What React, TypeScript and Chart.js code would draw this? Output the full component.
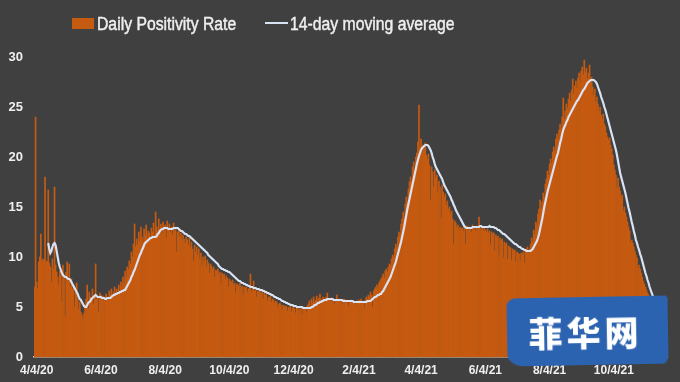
import React, { useEffect, useRef } from 'react';
import { Chart, registerables } from 'chart.js';

Chart.register(...registerables);

// First category is 2 Apr 2020, one bar per day
const startYear = 2020;
const startMonth = 3; // April (0-based)
const startDay = 2;

const tickLabels = ['4/4/20', '6/4/20', '8/4/20', '10/4/20', '12/4/20', '2/4/21', '4/4/21', '6/4/21', '8/4/21', '10/4/21'];

const dailyRate: number[] = [
  7.0, 24.0, 7.5, 6.8, 9.5, 10.0, 12.3, 9.6, 9.8, 9.7,
  18.0, 9.5, 9.6, 16.7, 9.4, 9.0, 7.5, 9.8, 8.8, 17.0,
  9.2, 8.5, 8.0, 7.2, 8.6, 8.2, 5.5, 9.2, 8.0, 4.0,
  8.5, 9.5, 7.6, 9.3, 7.0, 7.8, 6.8, 7.2, 5.0, 6.5,
  7.4, 5.8, 4.8, 5.5, 4.5, 4.2, 3.8, 4.4, 5.2, 5.8,
  7.2, 4.8, 6.5, 6.0, 5.6, 6.8, 5.3, 6.2, 9.3, 5.8,
  6.0, 4.5, 6.4, 6.2, 5.9, 6.1, 5.6, 6.0, 6.3, 5.7,
  6.0, 6.6, 6.2, 6.8, 6.0, 6.5, 7.0, 6.4, 6.8, 6.2,
  7.2, 6.6, 7.5, 7.0, 8.0, 7.4, 8.6, 8.0, 9.0, 8.7,
  9.6, 9.3, 10.5, 10.0, 11.3, 13.3, 11.0, 11.8, 11.2, 12.5,
  11.6, 13.0, 12.0, 11.5, 12.8, 12.2, 13.2, 11.8, 12.6, 12.4,
  12.0, 12.9, 12.5, 13.4, 12.2, 14.5, 13.0, 12.6, 13.8, 12.8,
  13.3, 12.4, 13.5, 12.9, 13.2, 11.9, 13.6, 12.7, 13.3, 12.5,
  13.0, 12.2, 13.4, 12.6, 13.0, 10.5, 12.5, 12.8, 12.0, 12.4,
  11.6, 12.2, 11.8, 11.4, 12.0, 11.7, 11.2, 11.9, 11.0, 11.5,
  10.8, 9.6, 11.2, 10.5, 11.0, 10.2, 10.8, 9.8, 10.4, 9.2,
  10.0, 9.6, 10.1, 9.0, 9.7, 9.4, 8.4, 9.3, 9.1, 8.8,
  9.0, 8.0, 8.7, 8.6, 8.8, 8.3, 8.5, 7.4, 8.4, 8.2,
  8.3, 7.8, 8.1, 7.9, 7.0, 7.8, 7.6, 7.5, 7.7, 7.2,
  7.4, 6.4, 7.3, 7.2, 7.0, 7.4, 6.9, 7.1, 6.2, 7.0,
  6.9, 7.0, 6.5, 6.8, 6.9, 8.3, 6.5, 6.8, 7.6, 6.6,
  6.7, 6.0, 6.6, 6.5, 6.7, 6.3, 6.5, 5.8, 6.4, 6.2,
  6.3, 5.6, 6.0, 5.9, 6.1, 5.5, 5.8, 5.7, 5.4, 5.6,
  5.5, 5.0, 5.3, 5.4, 5.2, 4.7, 5.2, 5.1, 5.0, 5.1,
  4.6, 5.0, 4.9, 5.1, 4.5, 4.9, 5.0, 4.8, 4.4, 4.9,
  5.0, 4.6, 4.8, 4.9, 4.3, 4.8, 5.0, 4.9, 4.4, 5.1,
  5.3, 5.6, 5.0, 5.8, 5.4, 6.0, 5.5, 5.7, 6.1, 5.6,
  5.9, 6.3, 5.6, 5.8, 6.0, 5.5, 5.9, 6.0, 6.4, 5.7,
  5.8, 5.6, 5.9, 5.5, 5.8, 5.3, 5.7, 6.2, 5.6, 5.8,
  5.5, 5.7, 5.2, 5.6, 5.8, 5.4, 5.7, 5.5, 5.1, 5.6,
  5.5, 5.7, 5.4, 5.6, 5.5, 5.2, 5.6, 5.5, 5.7, 5.4,
  5.8, 5.6, 5.5, 4.9, 5.7, 6.0, 5.8, 6.2, 6.0, 6.5,
  6.2, 5.0, 6.6, 6.8, 7.0, 7.2, 6.9, 7.4, 7.6, 7.8,
  8.0, 8.3, 7.9, 8.6, 8.8, 8.5, 9.0, 9.3, 9.2, 9.8,
  10.2, 10.0, 10.8, 11.3, 11.0, 12.0, 12.5, 12.2, 13.3, 13.8,
  14.5, 14.0, 15.3, 16.0, 15.6, 16.8, 17.5, 18.0, 17.6, 19.0,
  19.5, 18.8, 20.0, 20.4, 21.5, 25.2, 21.0, 21.8, 20.5, 21.2,
  20.8, 21.4, 20.2, 19.8, 20.3, 19.2, 15.7, 19.0, 18.5, 17.0,
  18.7, 17.9, 18.2, 16.5, 17.6, 17.0, 13.8, 17.2, 16.5, 16.0,
  16.3, 15.2, 15.6, 14.8, 15.0, 14.3, 14.6, 13.8, 11.3, 13.6,
  13.4, 13.0, 13.2, 12.7, 13.0, 12.8, 12.9, 12.6, 13.0, 11.3,
  12.8, 13.1, 12.7, 13.0, 12.9, 12.5, 13.2, 12.8, 13.0, 12.6,
  13.1, 12.8, 14.0, 12.9, 12.7, 13.0, 12.6, 12.9, 12.7, 12.5,
  12.8, 12.4, 12.6, 11.2, 12.5, 12.3, 12.4, 10.6, 12.2, 12.0,
  12.1, 10.2, 11.9, 11.7, 11.8, 9.9, 11.5, 11.3, 11.4, 9.8,
  11.1, 11.0, 10.9, 9.7, 10.8, 10.6, 10.7, 9.5, 10.5, 10.4,
  10.3, 9.6, 10.4, 10.2, 10.5, 9.4, 10.6, 10.8, 11.0, 10.4,
  10.8, 11.3, 11.9, 11.5, 12.7, 12.3, 13.5, 13.2, 14.3, 14.8,
  15.7, 14.9, 15.5, 16.4, 16.0, 17.3, 17.8, 18.6, 18.2, 19.3,
  19.8, 19.4, 20.5, 21.0, 20.6, 21.8, 22.3, 21.9, 22.7, 23.3,
  22.8, 24.0, 25.9, 23.8, 24.6, 25.3, 24.9, 25.8, 26.4, 25.6,
  26.7, 27.8, 26.3, 27.1, 27.6, 26.9, 27.9, 28.4, 27.5, 28.6,
  29.0, 28.2, 29.7, 28.5, 28.9, 27.8, 28.4, 29.2, 27.6, 28.0,
  27.0, 26.2, 26.8, 25.5, 26.0, 25.3, 24.6, 25.0, 24.2, 23.8,
  24.3, 23.3, 23.0, 22.4, 22.0, 21.7, 21.9, 21.2, 20.8, 20.2,
  19.2, 18.7, 18.2, 16.9, 17.9, 17.0, 16.6, 16.0, 16.2, 14.6,
  15.0, 14.4, 14.0, 13.5, 13.0, 12.6, 11.5, 11.7, 11.4, 11.0,
  10.6, 10.2, 9.9, 8.9, 9.2, 8.8, 8.4, 8.0, 7.6, 7.3,
  7.0, 6.7, 6.4, 6.2, 6.0, 5.8, 5.6, 5.4, 5.2, 5.0,
  4.7, 4.4, 4.1, 3.8, 3.5, 3.2, 2.9, 2.6, 2.2, 1.8,
  1.2,
];

const movingAvg: (number | null)[] = [
  null, null, null, null, null, null, null, null, null, null,
  null, null, null, 11.4, 10.8, 10.4, 10.6, 11.0, 11.3, 11.4,
  11.2, 10.6, 10.0, 9.4, 9.0, 8.7, 8.4, 8.2, 8.1, 8.0,
  8.0, 7.9, 7.8, 7.8, 7.7, 7.5, 7.3, 7.1, 6.9, 6.7,
  6.5, 6.3, 6.0, 5.8, 5.7, 5.5, 5.3, 5.1, 5.0, 5.0,
  5.2, 5.4, 5.5, 5.6, 5.8, 5.9, 6.0, 6.1, 6.2, 6.1,
  6.0, 6.0, 6.0, 6.0, 5.9, 5.9, 5.9, 5.8, 5.8, 5.9,
  5.9, 5.9, 5.9, 6.0, 6.1, 6.2, 6.2, 6.3, 6.3, 6.4,
  6.4, 6.5, 6.5, 6.6, 6.6, 6.7, 6.7, 6.9, 7.1, 7.3,
  7.5, 7.7, 8.0, 8.2, 8.5, 8.7, 9.0, 9.3, 9.6, 9.9,
  10.2, 10.4, 10.7, 10.9, 11.2, 11.4, 11.5, 11.6, 11.7, 11.8,
  11.9, 11.9, 12.0, 12.0, 12.0, 12.0, 12.1, 12.3, 12.4, 12.6,
  12.7, 12.8, 12.8, 12.9, 12.9, 12.9, 12.9, 12.8, 12.8, 12.8,
  12.8, 12.8, 12.9, 12.9, 12.9, 12.9, 12.9, 12.8, 12.7, 12.6,
  12.6, 12.5, 12.4, 12.3, 12.3, 12.2, 12.1, 12.1, 12.0, 11.9,
  11.8, 11.7, 11.6, 11.5, 11.4, 11.3, 11.2, 11.1, 11.0, 10.9,
  10.8, 10.7, 10.6, 10.5, 10.4, 10.2, 10.1, 10.0, 9.9, 9.8,
  9.7, 9.6, 9.5, 9.4, 9.3, 9.1, 9.0, 8.9, 8.8, 8.8,
  8.7, 8.7, 8.6, 8.6, 8.5, 8.5, 8.4, 8.3, 8.2, 8.1,
  8.0, 7.9, 7.8, 7.7, 7.6, 7.6, 7.5, 7.4, 7.4, 7.3,
  7.3, 7.2, 7.2, 7.1, 7.1, 7.0, 7.0, 7.0, 6.9, 6.9,
  6.9, 6.8, 6.8, 6.8, 6.7, 6.7, 6.7, 6.6, 6.6, 6.5,
  6.5, 6.4, 6.4, 6.3, 6.3, 6.2, 6.2, 6.1, 6.0, 6.0,
  5.9, 5.9, 5.8, 5.8, 5.7, 5.6, 5.6, 5.5, 5.5, 5.4,
  5.4, 5.3, 5.3, 5.2, 5.2, 5.2, 5.1, 5.1, 5.1, 5.0,
  5.0, 5.0, 5.0, 5.0, 5.0, 4.9, 4.9, 4.9, 4.9, 4.9,
  4.9, 4.9, 4.9, 5.0, 5.0, 5.1, 5.2, 5.2, 5.3, 5.4,
  5.4, 5.5, 5.5, 5.6, 5.6, 5.7, 5.7, 5.7, 5.8, 5.8,
  5.8, 5.8, 5.8, 5.8, 5.7, 5.7, 5.7, 5.7, 5.7, 5.7,
  5.7, 5.7, 5.7, 5.6, 5.6, 5.6, 5.6, 5.6, 5.6, 5.6,
  5.6, 5.6, 5.6, 5.5, 5.5, 5.5, 5.5, 5.5, 5.5, 5.5,
  5.5, 5.5, 5.5, 5.5, 5.5, 5.5, 5.6, 5.6, 5.6, 5.6,
  5.7, 5.8, 5.9, 6.0, 6.0, 6.1, 6.2, 6.2, 6.3, 6.3,
  6.5, 6.6, 6.8, 7.0, 7.2, 7.4, 7.6, 7.8, 8.0, 8.3,
  8.6, 8.9, 9.2, 9.5, 9.9, 10.3, 10.7, 11.1, 11.5, 12.0,
  12.5, 13.0, 13.6, 14.2, 14.8, 15.3, 15.8, 16.3, 16.8, 17.3,
  17.8, 18.3, 18.8, 19.3, 19.7, 20.1, 20.4, 20.7, 20.9, 21.0,
  21.1, 21.2, 21.2, 21.2, 21.1, 20.9, 20.7, 20.4, 20.0, 19.7,
  19.3, 19.0, 18.8, 18.6, 18.4, 18.2, 18.0, 17.8, 17.5, 17.2,
  17.0, 16.8, 16.6, 16.4, 16.2, 16.0, 15.7, 15.5, 15.2, 15.0,
  14.7, 14.5, 14.3, 14.1, 13.9, 13.7, 13.5, 13.3, 13.1, 13.0,
  12.9, 12.9, 12.9, 12.9, 12.9, 12.9, 13.0, 13.0, 13.0, 13.0,
  13.0, 13.0, 13.0, 13.1, 13.1, 13.0, 13.0, 13.0, 13.0, 13.0,
  13.0, 13.0, 13.1, 13.0, 13.0, 13.0, 13.0, 12.9, 12.9, 12.8,
  12.7, 12.7, 12.6, 12.5, 12.4, 12.3, 12.3, 12.2, 12.1, 12.0,
  11.9, 11.8, 11.7, 11.6, 11.5, 11.4, 11.3, 11.3, 11.2, 11.1,
  11.0, 11.0, 10.9, 10.8, 10.8, 10.7, 10.7, 10.6, 10.6, 10.6,
  10.6, 10.6, 10.7, 10.8, 11.0, 11.2, 11.4, 11.6, 11.9, 12.3,
  12.8, 13.3, 13.8, 14.4, 15.0, 15.5, 16.0, 16.5, 16.9, 17.3,
  17.7, 18.1, 18.5, 18.9, 19.3, 19.7, 20.1, 20.4, 20.9, 21.4,
  21.8, 22.3, 22.7, 23.0, 23.2, 23.5, 23.7, 24.0, 24.2, 24.4,
  24.6, 24.8, 25.0, 25.2, 25.4, 25.6, 25.7, 25.9, 26.1, 26.3,
  26.5, 26.7, 26.8, 27.0, 27.2, 27.4, 27.5, 27.6, 27.7, 27.7,
  27.7, 27.7, 27.6, 27.5, 27.3, 27.0, 26.7, 26.4, 26.0, 25.7,
  25.4, 25.0, 24.7, 24.3, 23.9, 23.5, 23.1, 22.7, 22.3, 21.9,
  21.5, 21.1, 20.7, 20.2, 19.6, 19.0, 18.4, 18.0, 17.6, 17.2,
  16.8, 16.4, 15.9, 15.4, 14.9, 14.5, 14.0, 13.5, 13.1, 12.6,
  12.2, 11.7, 11.4, 11.0, 10.7, 10.3, 10.0, 9.6, 9.2, 8.8,
  8.4, 8.1, 7.7, 7.4, 7.0, 6.7, 6.4, 6.1, 5.9, 5.6,
  5.4, 5.2, 5.0, 4.8, 4.6, 4.4, 4.2, 4.0, 3.8, 3.6,
  3.4,
];

const FONT = '"Liberation Sans", Arial, sans-serif';
const BG = '#404040';
const BAR = '#c55a11';
const LINE = '#dae3f3';
const TEXT = '#efefef';

function buildDates(n: number): string[] {
  const out: string[] = [];
  for (let i = 0; i < n; i++) {
    const d = new Date(Date.UTC(startYear, startMonth, startDay + i));
    out.push(`${d.getUTCMonth() + 1}/${d.getUTCDate()}/${String(d.getUTCFullYear()).slice(2)}`);
  }
  return out;
}

export default function App() {
  const canvasRef = useRef<HTMLCanvasElement | null>(null);

  useEffect(() => {
    if (!canvasRef.current) return;
    const labels = buildDates(dailyRate.length);
    const shown = new Set(tickLabels);
    const chart = new Chart(canvasRef.current, {
      type: 'bar',
      data: {
        labels,
        datasets: [
          {
            type: 'line',
            label: '14-day moving average',
            data: movingAvg,
            borderColor: LINE,
            borderWidth: 2.2,
            pointRadius: 0,
            tension: 0,
            order: 0,
          } as any,
          {
            type: 'bar',
            label: 'Daily Positivity Rate',
            data: dailyRate,
            backgroundColor: BAR,
            borderWidth: 0,
            barPercentage: 1,
            categoryPercentage: 1,
            order: 1,
          } as any,
        ],
      },
      options: {
        animation: false,
        responsive: false,
        layout: { padding: { top: 57, right: 13, bottom: 0, left: 0 } },
        plugins: { legend: { display: false }, tooltip: { enabled: false } },
        scales: {
          x: {
            grid: { display: false, drawTicks: false },
            border: { display: true, color: '#f4c8a6', width: 1.5 },
            ticks: {
              autoSkip: false,
              maxRotation: 0,
              minRotation: 0,
              padding: 6,
              color: TEXT,
              font: { family: FONT, size: 12, weight: 'bold' },
              callback: (_v: any, i: number) => (shown.has(labels[i]) ? labels[i] : null),
            },
            afterFit: (s: any) => { s.height = 25; },
          },
          y: {
            min: 0,
            max: 30,
            grid: { display: false, drawTicks: false },
            border: { display: false },
            ticks: {
              stepSize: 5,
              padding: 11,
              color: TEXT,
              font: { family: FONT, size: 13, weight: 'bold' },
            },
            afterFit: (s: any) => { s.width = 34; },
          },
        },
      } as any,
    });
    return () => chart.destroy();
  }, []);

  const legendText: React.CSSProperties = {
    position: 'absolute',
    top: 15,
    font: `18px ${FONT}`,
    lineHeight: '18px',
    color: TEXT,
    whiteSpace: 'nowrap',
    transform: 'scaleX(0.875)',
    transformOrigin: '0 50%',
    WebkitTextStroke: `0.45px ${TEXT}`,
  };

  return (
    <div style={{ position: 'fixed', left: 0, top: 0, width: 680, height: 382, background: BG, overflow: 'hidden' }}>
      <canvas ref={canvasRef} width={680} height={382} style={{ position: 'absolute', left: 0, top: 0, width: 680, height: 382 }} />
      <div style={{ position: 'absolute', left: 72, top: 18, width: 22, height: 11, background: BAR }} />
      <span style={{ ...legendText, left: 97 }}>Daily Positivity Rate</span>
      <div style={{ position: 'absolute', left: 265, top: 22, width: 23, height: 2, background: LINE }} />
      <span style={{ ...legendText, left: 290 }}>14-day moving average</span>
      <div
        style={{
          position: 'absolute',
          left: 507,
          top: 297,
          width: 161,
          height: 68,
          background: '#2c63b0',
          borderRadius: '10px 3px 5px 16px / 8px 4px 10px 12px',
          transform: 'rotate(-1deg)',
          display: 'flex',
          alignItems: 'center',
          justifyContent: 'center',
          color: '#ffffff',
          font: '900 34px "Noto Sans CJK SC", sans-serif',
          letterSpacing: 4,
          paddingRight: 4,
          boxSizing: 'border-box',
        }}
      >
        菲华网
      </div>
    </div>
  );
}
